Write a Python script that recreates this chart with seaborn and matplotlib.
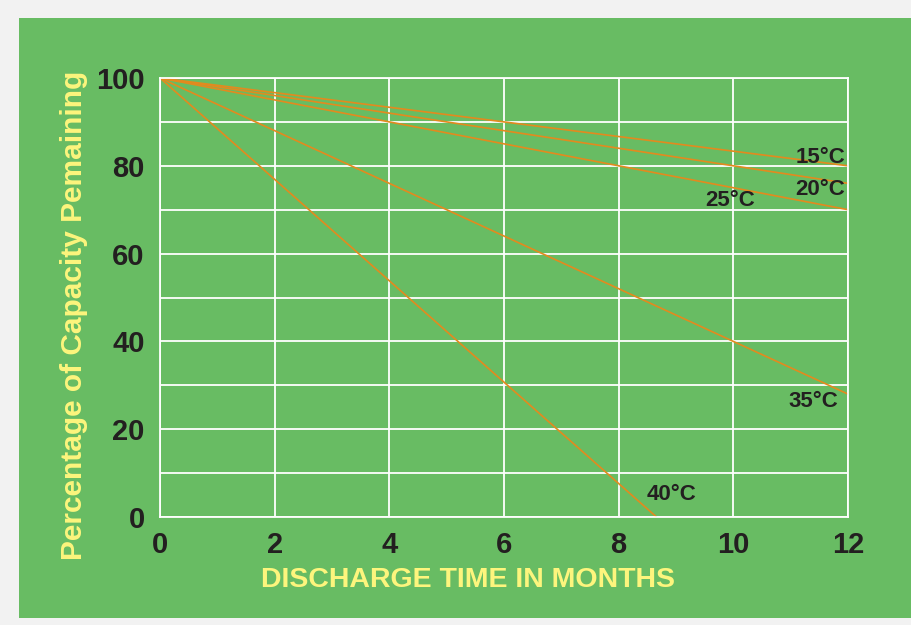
import pandas as pd
import matplotlib.pyplot as plt
import seaborn as sns
from matplotlib.patches import Rectangle

# values
temps = ['15°C', '20°C', '25°C', '35°C', '40°C']
months_start = [0, 0, 0, 0, 0]
months_end = [12, 12, 12, 12, 8.66]
capacity_start = [100, 100, 100, 100, 100]
capacity_end = [80, 76, 70, 28, 0]

# where each temperature label sits
label_x = [11.95, 11.95, 9.94, 11.4, 8.93]
label_y = [82, 74.5, 72, 26.2, 5.2]

rows = []
for t, x0, x1, y0, y1 in zip(temps, months_start, months_end, capacity_start, capacity_end):
    rows.append({'temp': t, 'months': x0, 'capacity': y0})
    rows.append({'temp': t, 'months': x1, 'capacity': y1})
df = pd.DataFrame(rows)

green = '#68bc63'
orange = '#e38a1e'
yellow = '#fdf57d'
dark = '#231f20'

sns.set_style('white')
plt.rcParams['font.family'] = ['Liberation Sans', 'DejaVu Sans']

fig = plt.figure(figsize=(9.12, 6.25), dpi=100)
fig.patch.set_facecolor('#f2f2f2')
fig.patches.append(Rectangle((19 / 912, 7 / 625), 1 - 19 / 912, 600 / 625,
                             transform=fig.transFigure, facecolor=green,
                             edgecolor='none', zorder=-10))

ax = fig.add_axes([160 / 912, 108 / 625, 688 / 912, 439 / 625])
ax.set_facecolor(green)
ax.set_zorder(1)

sns.lineplot(data=df, x='months', y='capacity', hue='temp',
             palette=[orange] * len(temps), linewidth=1.2, legend=False, ax=ax)

ax.set_xlim(0, 12)
ax.set_ylim(0, 100)
ax.set_xticks(range(0, 13, 2))
ax.set_yticks(range(0, 101, 20))
ax.set_yticks(range(10, 100, 20), minor=True)
ax.grid(True, which='both', color='white', linewidth=1.3)
ax.set_axisbelow(True)
for s in ax.spines.values():
    s.set_color('white')
    s.set_linewidth(1.3)

ax.tick_params(axis='both', which='both', length=0, labelsize=21,
               labelcolor=dark)
ax.tick_params(axis='y', pad=11)
ax.tick_params(axis='x', pad=10)
for lab in ax.get_xticklabels() + ax.get_yticklabels():
    lab.set_fontweight('bold')

ax.set_xlabel('')
ax.set_ylabel('')

for t, x, y in zip(temps, label_x, label_y):
    ha = 'right' if x > 11.9 else 'center'
    ax.text(x, y, t, ha=ha, va='center', fontsize=16, fontweight='bold',
            color=dark)

fig.text(468 / 912, 45 / 625, 'DISCHARGE TIME IN MONTHS', ha='center',
         va='center', fontsize=20.5, fontweight='bold', color=yellow)
fig.text(74 / 912, 310 / 625, 'Percentage of Capacity Pemaining', ha='center',
         va='center', rotation=90, fontsize=21.5, fontweight='bold', color=yellow)

fig.savefig('out.png', dpi=100, facecolor=fig.get_facecolor())
